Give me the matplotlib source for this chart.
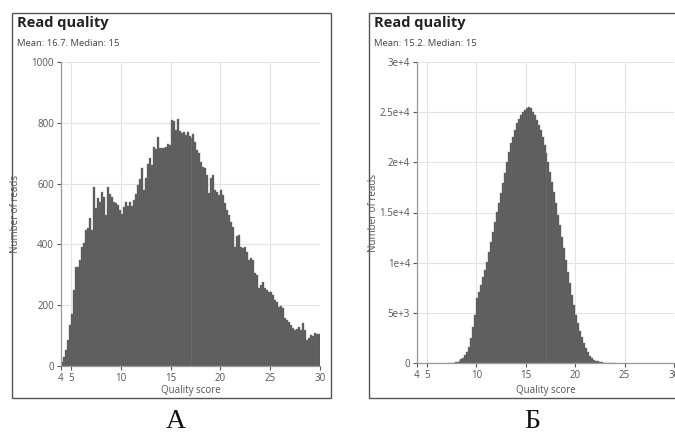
import matplotlib
matplotlib.use("Agg")
import matplotlib.pyplot as plt
from matplotlib.patches import Rectangle
import numpy as np

plt.rcParams['font.family'] = ['Open Sans', 'DejaVu Sans']

W, H = 675, 434

# --- data ---
bin_width = 0.2

# panel A: bins start at 4.0
a_first_bin = 4.0
a_counts = [14, 31, 53, 86, 135, 170, 250, 327, 327, 349,
            393, 406, 447, 453, 486, 447, 588, 519, 552, 541,
            573, 557, 497, 590, 565, 557, 541, 537, 530, 513,
            500, 522, 540, 525, 540, 525, 545, 565, 595, 615,
            650, 580, 620, 665, 685, 660, 720, 715, 752, 716,
            716, 718, 722, 730, 728, 809, 807, 776, 811, 774,
            765, 770, 760, 770, 756, 749, 762, 738, 711, 700,
            672, 656, 650, 628, 568, 617, 628, 579, 573, 562,
            579, 562, 535, 513, 497, 475, 458, 393, 428, 431,
            393, 387, 393, 376, 349, 354, 349, 305, 299, 255,
            265, 277, 256, 250, 245, 245, 234, 217, 212, 195,
            197, 190, 157, 151, 146, 135, 124, 118, 121, 129,
            118, 140, 118, 86, 91, 102, 99, 108, 104, 105]

# panel B: bins start at 7.0
b_first_bin = 7.0
b_counts = [5, 10, 20, 35, 66, 133, 233, 366, 532, 798,
            1130, 1630, 2460, 3620, 4790, 6450, 7110, 7780, 8610, 9270,
            10100, 11100, 12100, 13090, 14090, 15090, 15920, 16920, 17910, 18910,
            20070, 21070, 21900, 22570, 23230, 23900, 24300, 24700, 25000, 25250,
            25400, 25560, 25390, 25060, 24730, 24230, 23730, 23230, 22570, 21740,
            20900, 20070, 19080, 18080, 17080, 15920, 14760, 13760, 12600, 11430,
            10270, 9110, 7940, 6780, 5780, 4790, 3960, 3220, 2560, 1960,
            1460, 1060, 730, 500, 330, 233, 166, 100, 66, 40,
            25, 15, 10, 6, 4, 2]

x_ticks = [4, 5, 10, 15, 20, 25, 30]
a_yticks = [0, 200, 400, 600, 800, 1000]
a_ylabels = ['0', '200', '400', '600', '800', '1000']
b_yticks = [0, 5000, 10000, 15000, 20000, 25000, 30000]
b_ylabels = ['0', '5e+3', '1e+4', '1.5e+4', '2e+4', '2.5e+4', '3e+4']

a_subtitle = 'Mean: 16.7. Median: 15'
b_subtitle = 'Mean: 15.2. Median: 15'


def fx(x):
    return x / W


def fy(y):
    return 1 - y / H


fig = plt.figure(figsize=(W / 100, H / 100), dpi=100)

# frames around each panel
for x0, x1 in [(12, 331), (369, 690)]:
    fig.patches.append(Rectangle((fx(x0), fy(398)), fx(x1) - fx(x0), fy(13) - fy(398),
                                 transform=fig.transFigure, fill=False,
                                 ec='#555555', lw=1.0))


def draw_panel(left, right, top, bottom, first_bin, counts, yticks, ylabels, ymax,
               subtitle, box_left):
    ax = fig.add_axes([fx(left), fy(bottom), fx(right) - fx(left), fy(top) - fy(bottom)])
    x = first_bin + bin_width * np.arange(len(counts))
    ax.bar(x, counts, width=bin_width, align='edge', color='#555555',
           edgecolor='#7a7a7a', linewidth=0.3)
    ax.set_xlim(4, 30)
    ax.set_ylim(0, ymax)
    ax.set_xticks(x_ticks)
    ax.set_yticks(yticks)
    ax.set_yticklabels(ylabels)
    ax.grid(True, color='#e4e4e4', lw=0.8)
    ax.set_axisbelow(True)
    for s in ['top', 'right']:
        ax.spines[s].set_visible(False)
    for s in ['left', 'bottom']:
        ax.spines[s].set_color('#999999')
        ax.spines[s].set_linewidth(0.9)
    ax.tick_params(labelsize=7, colors='#555555', length=3, width=0.8, pad=2)
    ax.tick_params(axis='x', labelcolor='#555555')

    fig.text(fx(box_left + 5), fy(23), 'Read quality', fontsize=10.5,
             fontweight='bold', va='center', ha='left', color='#222222')
    fig.text(fx(box_left + 5), fy(44), subtitle, fontsize=6.8,
             va='center', ha='left', color='#444444')
    fig.text(fx(box_left + 4), fy((top + bottom) / 2), 'Number of reads', fontsize=7,
             rotation=90, va='center', ha='center', color='#555555')
    fig.text(fx((left + right) / 2), fy(390), 'Quality score', fontsize=7,
             va='center', ha='center', color='#555555')
    return ax


draw_panel(61, 320, 62, 366, a_first_bin, a_counts, a_yticks, a_ylabels, 1000,
           a_subtitle, 12)
draw_panel(417, 674, 62, 363, b_first_bin, b_counts, b_yticks, b_ylabels, 30000,
           b_subtitle, 369)

fig.text(fx(176), fy(421), 'А', family='Liberation Serif', fontsize=20,
         ha='center', va='center', color='#111111')
fig.text(fx(532), fy(421), 'Б', family='Liberation Serif', fontsize=20,
         ha='center', va='center', color='#111111')

fig.savefig('out.png', dpi=100)
